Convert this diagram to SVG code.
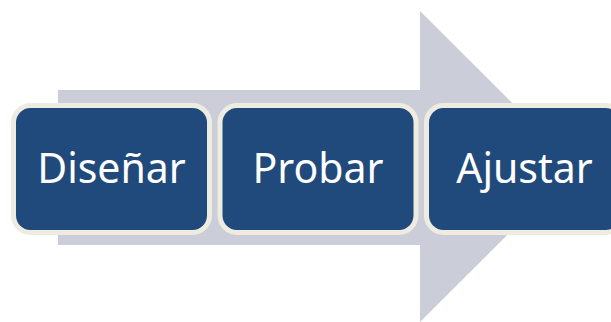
<svg xmlns="http://www.w3.org/2000/svg" width="611" height="322" viewBox="0 0 611 322">
<style>
.box{fill:#214A7C;stroke:#EEECE1;stroke-width:5}
.lbl{fill:#FFFFFF;font-family:"Noto Sans","Open Sans",sans-serif;font-size:41px;text-anchor:middle}
</style>
<rect width="611" height="322" fill="#FFFFFF"/>
<g id="arrow">
<polygon points="58,90 420,90 420,11 576,166.5 420,322 420,245 58,245" fill="#CBCED8"/>
</g>
<g id="n1">
<rect class="box" x="13.5" y="105.5" width="196" height="127" rx="17"/>
<text class="lbl" x="111.5" y="183">Diseñar</text>
</g>
<g id="n2">
<rect class="box" x="220" y="105.5" width="196" height="127" rx="17"/>
<text class="lbl" x="318" y="183">Probar</text>
</g>
<g id="n3">
<rect class="box" x="426.5" y="105.5" width="196" height="127" rx="17"/>
<text class="lbl" x="524.5" y="183">Ajustar</text>
</g>
<g id="connectors"></g>
</svg>
